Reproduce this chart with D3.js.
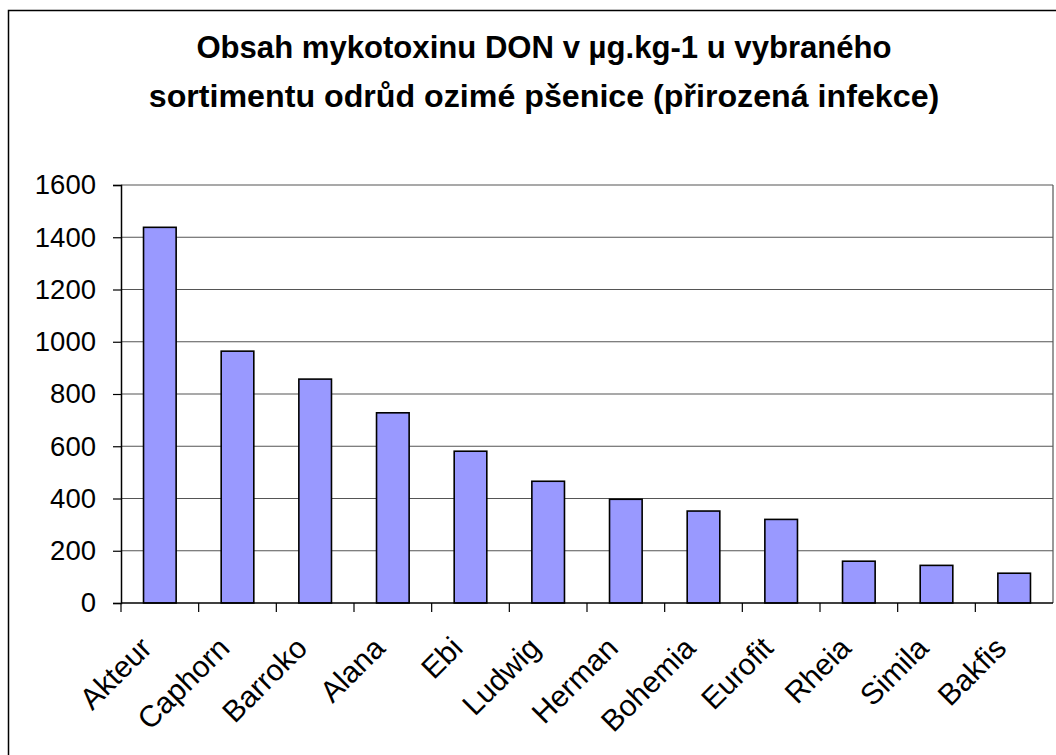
<!DOCTYPE html>
<meta charset="utf-8">
<style>
body { margin: 0; background: #fff; }
svg text { font-family: Arial, "Liberation Sans", sans-serif; fill: #000; }
.grid line { stroke: #555; stroke-width: 1.2px; }
.bar { fill: #9999ff; stroke: #000; stroke-width: 1.6px; }
</style>
<svg width="1056" height="755"></svg>
<script src="https://d3js.org/d3.v7.min.js"></script>
<script>

var varieties = ["Akteur", "Caphorn", "Barroko", "Alana", "Ebi", "Ludwig",
    "Herman", "Bohemia", "Eurofit", "Rheia", "Simila", "Bakfis"];
var donValues = [1438, 964, 857, 728, 581, 466, 397, 352, 320, 160, 144, 114];
var yTicks = [0, 200, 400, 600, 800, 1000, 1200, 1400, 1600];
var titleLines = ["Obsah mykotoxinu DON v µg.kg-1 u vybraného",
    "sortimentu odrůd ozimé pšenice (přirozená infekce)"];

var svg = d3.select("svg"),
    margin = {left: 121, right: 1053, top: 185, bottom: 603};

// outer chart frame (runs off the right and bottom edge)
svg.append("rect")
    .attr("x", 8.5).attr("y", 10.5)
    .attr("width", 1100).attr("height", 800)
    .attr("fill", "none").attr("stroke", "#000").attr("stroke-width", 1.5);

svg.selectAll(".title")
    .data(titleLines)
  .enter().append("text")
    .attr("class", "title")
    .attr("x", 544)
    .attr("y", function(d, i) { return 58 + i * 49; })
    .attr("text-anchor", "middle")
    .style("font-weight", "bold")
    .style("font-size", function(d, i) { return i ? "32.2px" : "31.1px"; })
    .text(function(d) { return d; });

var x = d3.scaleBand()
    .domain(varieties)
    .range([margin.left, margin.right])
    .paddingInner(0.58)
    .paddingOuter(0.29);

var xCat = d3.scaleBand()
    .domain(varieties)
    .range([margin.left, margin.right]);

var y = d3.scaleLinear()
    .domain([0, 1600])
    .range([margin.bottom, margin.top]);

// gridlines
svg.append("g")
    .attr("class", "grid")
  .selectAll("line")
    .data(yTicks.slice(1))
  .enter().append("line")
    .attr("x1", margin.left).attr("x2", margin.right)
    .attr("y1", function(d) { return y(d); })
    .attr("y2", function(d) { return y(d); });

svg.append("line")
    .attr("x1", margin.right).attr("x2", margin.right)
    .attr("y1", margin.top).attr("y2", margin.bottom)
    .attr("stroke", "#555").attr("stroke-width", 1.2);

svg.selectAll(".bar")
    .data(donValues)
  .enter().append("rect")
    .attr("class", "bar")
    .attr("x", function(d, i) { return x(varieties[i]); })
    .attr("width", x.bandwidth())
    .attr("y", function(d) { return y(d); })
    .attr("height", function(d) { return y(0) - y(d); });

// y axis
var yAxis = svg.append("g")
    .attr("transform", "translate(" + margin.left + ",0)")
    .call(d3.axisLeft(y).tickValues(yTicks).tickFormat(d3.format("d"))
      .tickSize(8).tickPadding(17));
yAxis.select(".domain").attr("stroke", "#000").attr("stroke-width", 1.5);
yAxis.selectAll(".tick line").attr("stroke", "#000").attr("stroke-width", 1.2);
yAxis.selectAll("text")
    .attr("fill", "#000")
    .style("font-size", "27.5px")
    .attr("font-family", null);

// x axis: ticks sit between categories
var xAxis = svg.append("g")
    .attr("transform", "translate(0," + margin.bottom + ")");
xAxis.append("line")
    .attr("x1", margin.left).attr("x2", margin.right)
    .attr("stroke", "#000").attr("stroke-width", 1.5);
xAxis.selectAll(".xtick")
    .data(varieties)
  .enter().append("line")
    .attr("x1", function(d) { return xCat(d); })
    .attr("x2", function(d) { return xCat(d); })
    .attr("y1", 0).attr("y2", 9)
    .attr("stroke", "#000").attr("stroke-width", 1.2);

xAxis.selectAll(".xlabel")
    .data(varieties)
  .enter().append("text")
    .attr("text-anchor", "end")
    .attr("transform", function(d) {
      return "translate(" + (xCat(d) + xCat.bandwidth() / 2 - 21) + ",32) rotate(-45)";
    })
    .attr("dy", "0.7em")
    .style("font-size", "30px")
    .text(function(d) { return d; });

</script>
